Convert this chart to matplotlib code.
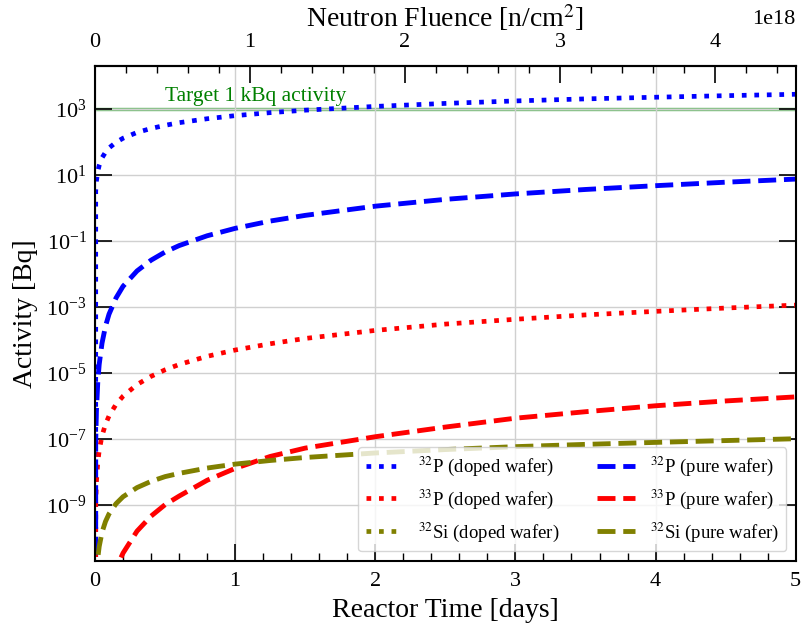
import matplotlib
matplotlib.use("Agg")
import matplotlib.pyplot as plt
from matplotlib.ticker import MultipleLocator, NullLocator, LogFormatterMathtext, FixedLocator

plt.rcParams['font.family'] = ['Liberation Serif', 'DejaVu Serif']
plt.rcParams['mathtext.fontset'] = 'stix'

# Reactor irradiation time grid [days]
t_days = [0, 0.005, 0.01, 0.02, 0.03, 0.05, 0.075, 0.1, 0.15, 0.2, 0.3, 0.4, 0.5,
          0.6, 0.8, 1.0, 1.25, 1.5, 2.0, 2.5, 3.0, 3.5, 4.0, 4.5, 5.0]

# Activities [Bq]
p32_doped = [0, 3.2, 6.5, 12.9, 19.5, 33, 49, 66, 98, 130, 195, 257, 320,
             385, 507, 630, 776, 923, 1200, 1480, 1760, 2030, 2280, 2540, 2800]
p33_doped = [0, 1.23e-9, 4.9e-9, 1.95e-8, 4.4e-8, 1.23e-7, 2.75e-7, 4.9e-7, 1.1e-6, 1.95e-6,
             4.4e-6, 7.8e-6, 1.23e-5, 1.78e-5, 3.16e-5, 4.9e-5, 7.6e-5, 1.1e-4, 1.93e-4,
             3.0e-4, 4.2e-4, 5.7e-4, 7.3e-4, 9.2e-4, 1.13e-3]
# 32Si curve of the doped wafer is not visible anywhere inside the plotted range
si32_doped = [0] * len(t_days)
p32_pure = [0, 8.5e-8, 6.8e-7, 5.4e-6, 1.8e-5, 7.9e-5, 2.6e-4, 6.0e-4, 1.86e-3, 4.2e-3,
            1.23e-2, 2.6e-2, 4.6e-2, 7.2e-2, 0.143, 0.24, 0.40, 0.595, 1.13, 1.82,
            2.66, 3.63, 4.73, 6.03, 7.5]
p33_pure = [0, 1.6e-17, 2.5e-16, 4e-15, 2e-14, 1.6e-13, 8e-13, 2.5e-12, 1.17e-11, 3.4e-11,
            1.58e-10, 4.5e-10, 1.0e-9, 1.82e-9, 5.5e-9, 1.26e-8, 2.9e-8, 5.2e-8, 1.15e-7,
            2.26e-7, 4.2e-7, 6.6e-7, 1.0e-6, 1.4e-6, 1.86e-6]
si32_pure = [0, 1.6e-12, 6.3e-12, 2.45e-11, 5.4e-11, 1.45e-10, 3.1e-10, 5.25e-10, 1.07e-9,
             1.74e-9, 3.3e-9, 5.1e-9, 7.1e-9, 8.9e-9, 1.29e-8, 1.7e-8, 2.19e-8, 2.7e-8,
             3.7e-8, 4.7e-8, 5.75e-8, 6.75e-8, 7.75e-8, 8.8e-8, 1.0e-7]

target_activity = 1000.0
fluence_per_day = 9.04e17  # n/cm^2 per day
y_ticks = [1e-9, 1e-7, 1e-5, 1e-3, 1e-1, 1e1, 1e3]
x_ticks = [0, 1, 2, 3, 4, 5]
fluence_ticks = [0, 1e18, 2e18, 3e18, 4e18]
fluence_minor = [0.2e18 * i for i in range(1, 23) if i % 5 != 0]

fig = plt.figure(figsize=(8.03, 6.31), dpi=100)
ax = fig.add_axes([95/803, 1-560.7/631, 700.7/803, 495/631])

ax.set_yscale('log')
ax.axhline(target_activity, color='green', alpha=0.5, lw=2.5, zorder=1.5)
ax.text(0.5, 1.25e3, 'Target 1 kBq activity', color='green', fontsize=15.5, va='bottom')

lw_dot, lw_dash = 3.4, 3.5
ax.plot(t_days, p32_doped, ':', color='blue', lw=lw_dot, label=r'$^{32}$P (doped wafer)')
ax.plot(t_days, p33_doped, ':', color='red', lw=lw_dot, label=r'$^{33}$P (doped wafer)')
ax.plot(t_days, si32_doped, ':', color='olive', lw=lw_dot, label=r'$^{32}$Si (doped wafer)')
ax.plot(t_days, p32_pure, '--', color='blue', lw=lw_dash, label=r'$^{32}$P (pure wafer)')
ax.plot(t_days, p33_pure, '--', color='red', lw=lw_dash, label=r'$^{33}$P (pure wafer)')
ax.plot(t_days, si32_pure, '--', color='olive', lw=lw_dash, label=r'$^{32}$Si (pure wafer)')

ax.set_xlim(0, 5)
ax.set_ylim(2.0e-11, 2.06e4)
ax.yaxis.set_major_locator(FixedLocator(y_ticks))
ax.yaxis.set_major_formatter(LogFormatterMathtext())
ax.yaxis.set_minor_locator(NullLocator())
ax.xaxis.set_major_locator(FixedLocator(x_ticks))
ax.xaxis.set_minor_locator(MultipleLocator(0.2))

ax.grid(True, which='major', color='#d0d0d0', lw=1.0)
ax.tick_params(axis='both', which='major', direction='in', length=12, width=1.2,
               labelsize=16, right=True, top=False)
ax.tick_params(axis='y', which='major', pad=6)
ax.tick_params(axis='x', which='major', pad=8)
ax.tick_params(axis='both', which='minor', direction='in', length=6, width=1.0, top=False)
for s in ax.spines.values():
    s.set_linewidth(1.5)

ax.set_xlabel('Reactor Time [days]', fontsize=20, labelpad=5)
ax.set_ylabel('Activity [Bq]', fontsize=20, labelpad=6)

ax2 = ax.secondary_xaxis('top', functions=(lambda t: t * fluence_per_day,
                                           lambda f: f / fluence_per_day))
ax2.xaxis.set_major_locator(FixedLocator(fluence_ticks))
ax2.xaxis.set_minor_locator(FixedLocator(fluence_minor))
ax2.tick_params(axis='x', which='major', direction='in', length=12, width=1.2,
                labelsize=16, pad=10)
ax2.tick_params(axis='x', which='minor', direction='in', length=5, width=1.0)
ax2.xaxis.get_offset_text().set_fontsize(16)
ax2.set_xlabel(r'Neutron Fluence [n/cm$^2$]', fontsize=20, labelpad=4)
ax2.spines['top'].set_linewidth(1.5)

ax.legend(loc='lower right', ncol=2, fontsize=13.5)

fig.savefig('out.png', dpi=100)
